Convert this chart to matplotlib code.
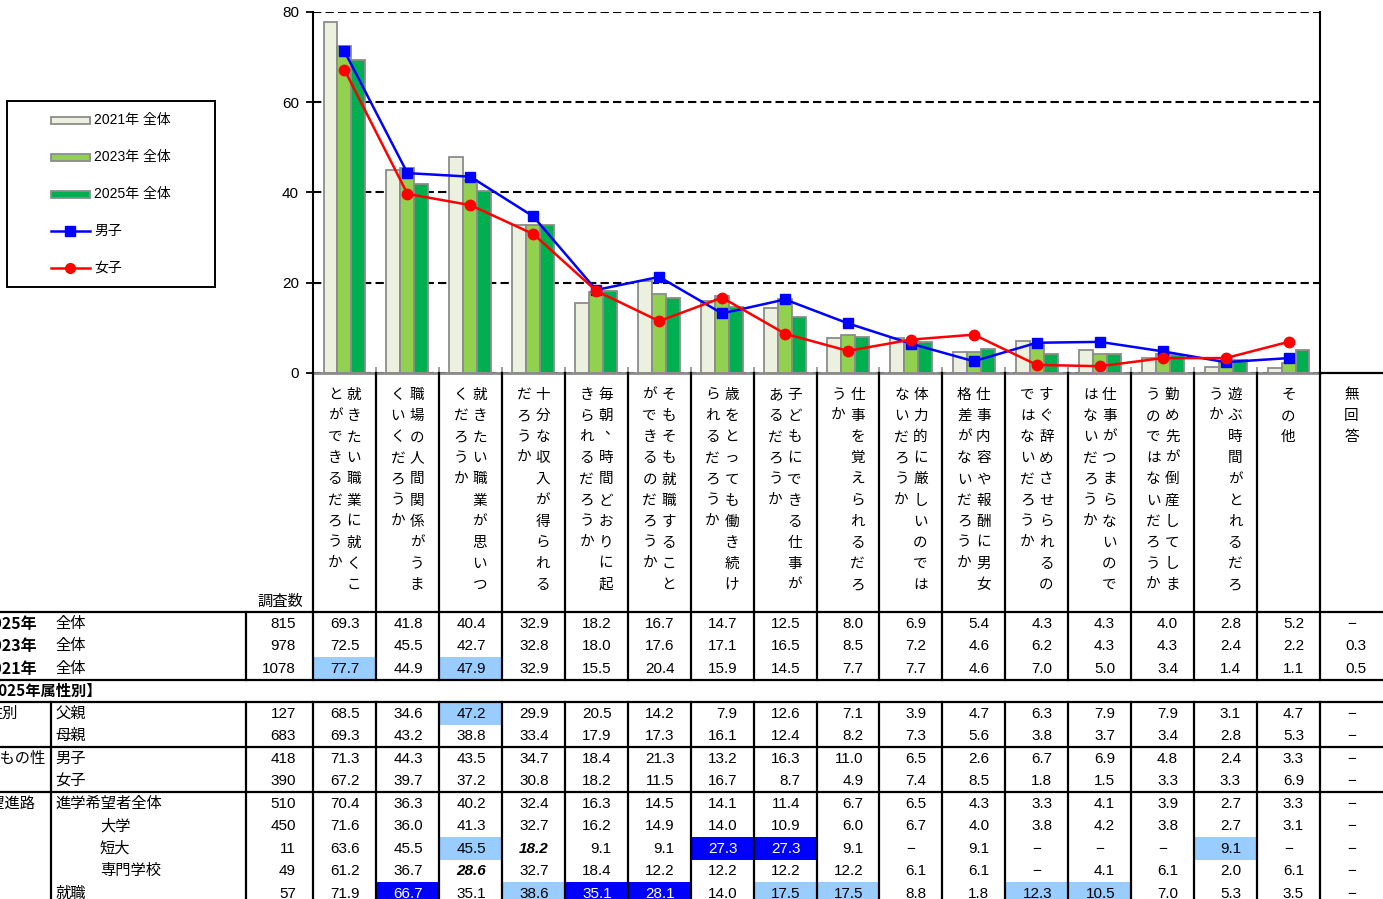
import numpy as np
import matplotlib.pyplot as plt
from matplotlib.patches import Rectangle

plt.rcParams['font.family'] = ['Liberation Sans', 'Noto Sans CJK JP']

categories = [
    "就きたい職業に就くことができるだろうか",
    "職場の人間関係がうまくいくだろうか",
    "就きたい職業が思いつくだろうか",
    "十分な収入が得られるだろうか",
    "毎朝、時間どおりに起きられるだろうか",
    "そもそも就職することができるのだろうか",
    "歳をとっても働き続けられるだろうか",
    "子どもにできる仕事があるだろうか",
    "仕事を覚えられるだろうか",
    "体力的に厳しいのではないだろうか",
    "仕事内容や報酬に男女格差がないだろうか",
    "すぐ辞めさせられるのではないだろうか",
    "仕事がつまらないのではないだろうか",
    "勤め先が倒産してしまうのではないだろうか",
    "遊ぶ時間がとれるだろうか",
    "その他",
    "無回答",
]

# None = "−"
y2025 = [69.3, 41.8, 40.4, 32.9, 18.2, 16.7, 14.7, 12.5, 8.0, 6.9, 5.4, 4.3, 4.3, 4.0, 2.8, 5.2, None]
y2023 = [72.5, 45.5, 42.7, 32.8, 18.0, 17.6, 17.1, 16.5, 8.5, 7.2, 4.6, 6.2, 4.3, 4.3, 2.4, 2.2, 0.3]
y2021 = [77.7, 44.9, 47.9, 32.9, 15.5, 20.4, 15.9, 14.5, 7.7, 7.7, 4.6, 7.0, 5.0, 3.4, 1.4, 1.1, 0.5]
father = [68.5, 34.6, 47.2, 29.9, 20.5, 14.2, 7.9, 12.6, 7.1, 3.9, 4.7, 6.3, 7.9, 7.9, 3.1, 4.7, None]
mother = [69.3, 43.2, 38.8, 33.4, 17.9, 17.3, 16.1, 12.4, 8.2, 7.3, 5.6, 3.8, 3.7, 3.4, 2.8, 5.3, None]
boys = [71.3, 44.3, 43.5, 34.7, 18.4, 21.3, 13.2, 16.3, 11.0, 6.5, 2.6, 6.7, 6.9, 4.8, 2.4, 3.3, None]
girls = [67.2, 39.7, 37.2, 30.8, 18.2, 11.5, 16.7, 8.7, 4.9, 7.4, 8.5, 1.8, 1.5, 3.3, 3.3, 6.9, None]
shingaku = [70.4, 36.3, 40.2, 32.4, 16.3, 14.5, 14.1, 11.4, 6.7, 6.5, 4.3, 3.3, 4.1, 3.9, 2.7, 3.3, None]
daigaku = [71.6, 36.0, 41.3, 32.7, 16.2, 14.9, 14.0, 10.9, 6.0, 6.7, 4.0, 3.8, 4.2, 3.8, 2.7, 3.1, None]
tandai = [63.6, 45.5, 45.5, 18.2, 9.1, 9.1, 27.3, 27.3, 9.1, None, 9.1, None, None, None, 9.1, None, None]
senmon = [61.2, 36.7, 28.6, 32.7, 18.4, 12.2, 12.2, 12.2, 12.2, 6.1, 6.1, None, 4.1, 6.1, 2.0, 6.1, None]
shushoku = [71.9, 66.7, 35.1, 38.6, 35.1, 28.1, 14.0, 17.5, 17.5, 8.8, 1.8, 12.3, 10.5, 7.0, 5.3, 3.5, None]

n_top = [815, 978, 1078]
n_attr = [127, 683, 418, 390, 510, 450, 11, 49, 57]

# cell marks: (row key, column, kind)  L = light blue, D = dark blue, B = bold italic
marks = [("2021", 0, "L"), ("2021", 2, "L"), ("父親", 2, "L"),
         ("短大", 2, "L"), ("短大", 3, "B"), ("短大", 6, "D"), ("短大", 7, "D"), ("短大", 14, "L"),
         ("専門学校", 2, "B"),
         ("就職", 1, "D"), ("就職", 3, "L"), ("就職", 4, "D"), ("就職", 5, "D"),
         ("就職", 7, "L"), ("就職", 8, "L"), ("就職", 11, "L"), ("就職", 12, "L")]

W, H = 1383, 899
fig = plt.figure(figsize=(W / 100, H / 100), dpi=100)

# ---------------- chart ----------------
L, R, T, B = 313, 1320, 12, 373
ax = fig.add_axes([L / W, 1 - B / H, (R - L) / W, (B - T) / H])
nc = 16
x = np.arange(nc)
bw = 0.222
edge = '#8C8C8C'
ax.bar(x - bw, y2021[:nc], bw, color='#EBF1DE', edgecolor=edge, linewidth=1.3, zorder=2)
ax.bar(x, y2023[:nc], bw, color='#92D050', edgecolor=edge, linewidth=1.3, zorder=2)
ax.bar(x + bw, y2025[:nc], bw, color='#00B050', edgecolor=edge, linewidth=1.3, zorder=2)
ax.plot(x, boys[:nc], color='#0000FF', lw=1.8, marker='s', ms=7.5, zorder=4)
ax.plot(x, girls[:nc], color='#FF0000', lw=1.8, marker='o', ms=7.5, zorder=4)

ax.set_xlim(-0.5, nc - 0.5)
ax.set_ylim(0, 80)
ax.set_yticks([0, 20, 40, 60, 80])
ax.set_xticks([])
ax.set_xticks(np.arange(-0.5, nc, 1), minor=True)
ax.tick_params(axis='x', which='minor', direction='in', length=4, color=edge, width=1.2)
ax.tick_params(axis='y', direction='out', length=5, width=1.3, labelsize=11, pad=5)
ax.set_axisbelow(True)
ax.yaxis.grid(True, color='black', linestyle=(0, (4, 2)), linewidth=1.5)
ax.spines['top'].set_visible(False)
ax.spines['left'].set_linewidth(1.5)
ax.spines['right'].set_linewidth(1.5)
ax.spines['bottom'].set_color(edge)
ax.spines['bottom'].set_linewidth(2)
ax.spines['bottom'].set_zorder(5)

# ---------------- overlay (legend + table) ----------------
ov = fig.add_axes([0, 0, 1, 1], zorder=5)
ov.set_xlim(0, W)
ov.set_ylim(H, 0)
ov.axis('off')
ov.patch.set_alpha(0)

jp = ['Liberation Sans', 'Noto Sans CJK JP']

# legend
ov.add_patch(Rectangle((7, 100.5), 207.5, 186, fill=False, edgecolor='black', lw=1.4))
leg_items = [("2021年 全体", 'bar', '#EBF1DE'), ("2023年 全体", 'bar', '#92D050'),
             ("2025年 全体", 'bar', '#00B050'), ("男子", 's', '#0000FF'), ("女子", 'o', '#FF0000')]
for i, (lab, kind, col) in enumerate(leg_items):
    yy = 120 + i * 37
    if kind == 'bar':
        ov.add_patch(Rectangle((51, yy - 3.5), 39, 7, facecolor=col, edgecolor=edge, lw=1.3))
    else:
        ov.plot([51, 90], [yy, yy], color=col, lw=1.8)
        ov.plot([70], [yy], marker=kind, color=col, ms=7)
    ov.text(94, yy, lab, ha='left', va='center', fontsize=10, family=jp)

# column geometry
cw = (R - L) / nc
col_left = [L + k * cw for k in range(nc + 1)]

# category header (vertical text)
step, ytop = 21.1, 395
for k, lab in enumerate(categories):
    cx = col_left[k] + cw / 2
    chunks = [lab[i:i + 10] for i in range(0, len(lab), 10)]
    xs = [cx] if len(chunks) == 1 else [cx + 9.5, cx - 9.5]
    for chunk, xc in zip(chunks, xs):
        for j, ch in enumerate(chunk):
            dx, dy = (6, -7) if ch == '、' else (0, 0)
            ov.text(xc + dx, ytop + j * step + dy, ch, ha='center', va='center',
                    fontsize=10.5, family='Noto Sans CJK JP')

ov.text(303, 602, "調査数", ha='right', va='center', fontsize=11, family=jp)

rh = 22.5
top_keys = ["2025", "2023", "2021"]
top_rows = [y2025, y2023, y2021]
attr_keys = ["父親", "母親", "男子", "女子", "進学希望者全体", "大学", "短大", "専門学校", "就職"]
attr_rows = [father, mother, boys, girls, shingaku, daigaku, tandai, senmon, shushoku]

row_y = {}
for i, kk in enumerate(top_keys):
    row_y[kk] = 612 + i * rh
for j, kk in enumerate(attr_keys):
    row_y[kk] = 702 + j * rh

mark_map = {(r, c): kind for r, c, kind in marks}


def draw_row(key, vals, n):
    y0 = row_y[key]
    yc = y0 + rh / 2 + 0.5
    ov.text(296, yc, str(n), ha='right', va='center', fontsize=11)
    for c, v in enumerate(vals):
        xl = col_left[c]
        kind = mark_map.get((key, c))
        color = 'black'
        if kind == 'L':
            ov.add_patch(Rectangle((xl, y0), cw, rh, facecolor='#99CCFF', edgecolor='none', zorder=0))
        elif kind == 'D':
            ov.add_patch(Rectangle((xl, y0), cw, rh, facecolor='#0000FF', edgecolor='none', zorder=0))
            color = 'white'
        if v is None:
            ov.text(xl + cw / 2, yc, "−", ha='center', va='center', fontsize=11, family=jp)
        else:
            bold = kind == 'B'
            ov.text(xl + cw - 16, yc, f"{v:.1f}", ha='right', va='center', fontsize=11,
                    color=color, fontweight='bold' if bold else 'normal',
                    fontstyle='italic' if bold else 'normal')


for kk, vals, n in zip(top_keys, top_rows, n_top):
    draw_row(kk, vals, n)
    yc = row_y[kk] + rh / 2 + 0.5
    ov.text(37, yc, kk + "年", ha='right', va='center', fontsize=11.5, fontweight='bold',
            family='Noto Sans CJK JP')
    ov.text(55, yc, "全体", ha='left', va='center', fontsize=11, family=jp)

for kk, vals, n in zip(attr_keys, attr_rows, n_attr):
    draw_row(kk, vals, n)
    yc = row_y[kk] + rh / 2 + 0.5
    xl = 100 if kk in ("大学", "短大", "専門学校") else 55
    ov.text(xl, yc, kk, ha='left', va='center', fontsize=11, family=jp)

ov.text(102, 690.5, "【2025年属性別】", ha='right', va='center', fontsize=11, fontweight='bold',
        family='Noto Sans CJK JP')
ov.text(18, row_y["父親"] + rh / 2 + 0.5, "性別", ha='right', va='center', fontsize=11, family=jp)
ov.text(46, row_y["男子"] + rh / 2 + 0.5, "子どもの性", ha='right', va='center', fontsize=11, family=jp)
ov.text(35, row_y["進学希望者全体"] + rh / 2 + 0.5, "希望進路", ha='right', va='center', fontsize=11, family=jp)

# table lines
lw = 1.6
for yy in [612, 679.5, 702, 746.5, 791.5]:
    ov.plot([0, W], [yy, yy], color='black', lw=lw, solid_capstyle='butt')
for k in range(nc + 1):
    xx = col_left[k]
    ov.plot([xx, xx], [B, 679.5], color='black', lw=lw)
    ov.plot([xx, xx], [702, H], color='black', lw=lw)
ov.plot([R, W], [B, B], color='black', lw=lw)
ov.plot([246, 246], [612, 679.5], color='black', lw=lw)
ov.plot([246, 246], [702, H], color='black', lw=lw)
ov.plot([51, 51], [702, H], color='black', lw=lw)

fig.savefig("out.png", dpi=100)
